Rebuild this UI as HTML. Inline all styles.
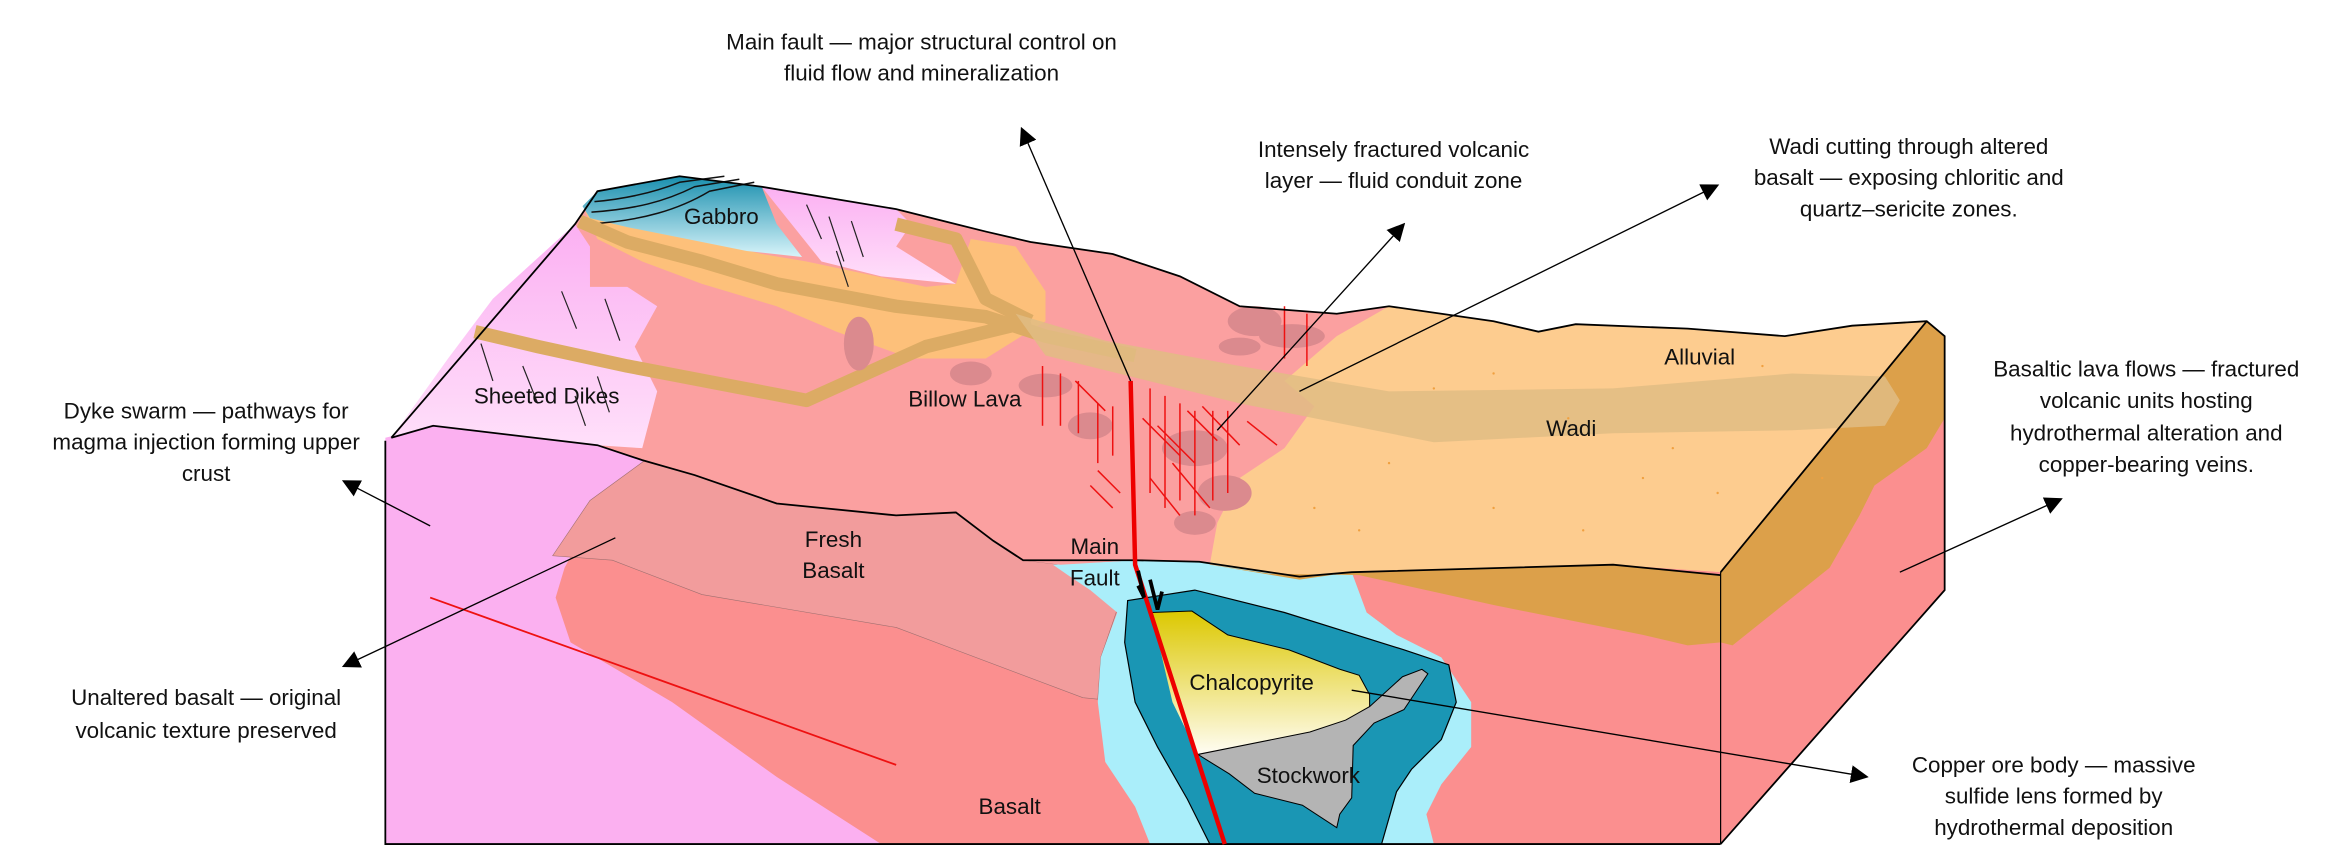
<!DOCTYPE html>
<html><head><meta charset="utf-8"><style>
html,body{margin:0;padding:0;background:#fff;}
svg{display:block}
text{font-family:"Liberation Sans",Arial,sans-serif;font-size:15px;fill:#111;}
</style></head><body>
<svg width="2330" height="862" viewBox="0 0 1560 577" preserveAspectRatio="none" xmlns="http://www.w3.org/2000/svg">
<defs>
<linearGradient id="gab" x1="0" y1="0" x2="0" y2="1"><stop offset="0" stop-color="#1a8fae"/><stop offset="1" stop-color="#d8f4fa"/></linearGradient>
<linearGradient id="chal" x1="0" y1="0" x2="0" y2="1"><stop offset="0" stop-color="#dcc800"/><stop offset="0.5" stop-color="#eee27a"/><stop offset="1" stop-color="#fffdf4"/></linearGradient>
<linearGradient id="dk" x1="0" y1="0" x2="0" y2="1"><stop offset="0" stop-color="#fbb0f2"/><stop offset="1" stop-color="#ffe0fa"/></linearGradient>
<marker id="ah" viewBox="0 0 10 10" refX="9" refY="5" markerWidth="12" markerHeight="12" markerUnits="userSpaceOnUse" orient="auto"><path d="M0,0 L10,5 L0,10 z" fill="#000"/></marker>
</defs>

<polygon points="258,295 1152,383 1152,565 258,565" fill="#fb8f8f"/>
<polygon points="258,293 290,285 400,298 432,308 400,340 378,380 372,400 382,430 450,470 520,520 590,565 258,565" fill="#fbb0f0"/>
<polygon points="370,372 395,335 432,308 465,318 520,337 600,345 640,343 665,362 685,375 710,378 725,390 748,408 737,440 735,468 725,467 600,420 470,398 410,375" fill="#f29c9c" stroke="#a07070" stroke-width="0.4"/>
<polygon points="705,378 760,375 803,376 870,386 905,383 915,410 935,425 965,440 985,470 985,500 965,525 955,545 960,565 770,565 760,540 740,510 735,470 737,440 748,410 730,395 715,385" fill="#aaeefa"/>
<polygon points="755,402 800,395 860,410 940,435 970,445 975,470 965,495 945,515 935,530 925,565 810,565 795,535 775,500 760,470 753,430" fill="#1a96b4" stroke="#000" stroke-width="0.8"/>
<polygon points="771,410 798,409 822,425 863,435 897,448 910,452 917,465 917,473 901,482 877,490 802,505 785,470" fill="url(#chal)"/>
<polygon points="802,505 877,490 901,482 917,473 939,453 952,448 956,451 940,475 920,484 906,499 905,534 897,545 895,554 872,539 840,531 823,518" fill="#b4b4b4" stroke="#000" stroke-width="0.7"/>
<polyline points="771,410 798,409 822,425 863,435 897,448 910,452 917,465 917,473" fill="none" stroke="#000" stroke-width="0.7"/>

<polygon points="262,293 385,150 400,128 455,118 510,125 600,140 640,150 660,155 690,162 745,170 790,185 830,205 895,210 930,205 1000,215 1030,222 1055,217 1130,220 1195,225 1240,218 1290,215 1152,383 1080,378 905,383 870,386 803,376 760,375 710,378 685,375 665,362 640,343 600,345 520,337 465,318 430,308 400,298 290,285" fill="#fba0a0"/>
<polygon points="930,205 1000,215 1030,222 1055,217 1130,220 1195,225 1240,218 1290,215 1152,383 1080,378 905,383 870,386 810,378 815,350 830,320 860,300 880,272 860,255 895,225" fill="#fdcc8f"/>
<polygon points="810,378 870,388 905,383 1080,378 1152,385 1152,430 1130,432 1100,425 1000,405 910,385 850,384" fill="#dca04a"/>
<polygon points="1152,383 1290,215 1302,225 1302,395 1152,565" fill="#fb8f8f"/>
<polygon points="1152,383 1290,215 1302,225 1302,280 1290,300 1255,325 1245,345 1225,380 1200,400 1160,432 1152,430" fill="#dca04a"/>

<polygon points="262,293 300,240 330,200 385,150 395,165 395,192 420,192 440,205 425,232 440,262 430,300 400,298 290,285" fill="url(#dk)"/>
<polygon points="392,142 420,150 470,160 510,170 540,175 620,192 640,190 650,160 680,165 700,195 700,215 660,240 610,240 560,222 520,205 470,190 430,175 400,160" fill="#fdc07a"/>
<polygon points="510,125 600,140 610,150 600,165 640,190 590,185 550,175 530,150" fill="url(#dk)"/>
<polygon points="400,128 455,118 510,125 520,150 537,172 500,168 460,160 420,152 395,146 390,138" fill="url(#gab)"/>
<g fill="none" stroke="#111" stroke-width="1">
<path d="M398,135 C420,133 440,128 455,122 L485,118"/>
<path d="M396,142 C425,140 445,135 465,125 L495,120"/>
<path d="M393,150 C430,148 455,140 475,128 L505,122"/>
</g>
<g fill="none" stroke="#dcab64" stroke-width="9" stroke-linejoin="round">
<polyline points="388,148 420,162 470,175 520,190 600,205 660,212 700,225 760,238"/>
<polyline points="600,150 640,160 660,200 690,215"/>
<polyline points="318,222 360,232 420,245 540,268 620,232 690,215"/>
</g>
<polygon points="680,210 740,228 830,245 930,262 1080,260 1200,250 1262,252 1272,268 1262,285 1200,288 1080,290 960,296 830,270 700,238" fill="#e0bc84" opacity="0.85"/>

<g fill="#db8a8e">
<ellipse cx="575" cy="230" rx="10" ry="18"/>
<ellipse cx="650" cy="250" rx="14" ry="8"/>
<ellipse cx="700" cy="258" rx="18" ry="8"/>
<ellipse cx="730" cy="285" rx="15" ry="9"/>
<ellipse cx="800" cy="300" rx="22" ry="12"/>
<ellipse cx="820" cy="330" rx="18" ry="12"/>
<ellipse cx="800" cy="350" rx="14" ry="8"/>
<ellipse cx="840" cy="215" rx="18" ry="10"/>
<ellipse cx="865" cy="225" rx="22" ry="8"/>
<ellipse cx="830" cy="232" rx="14" ry="6"/>
</g>
<g fill="#f0a040">
<circle cx="960" cy="260" r="0.8"/><circle cx="1000" cy="250" r="0.8"/><circle cx="1050" cy="280" r="0.8"/><circle cx="1100" cy="320" r="0.8"/><circle cx="930" cy="310" r="0.8"/><circle cx="1000" cy="340" r="0.8"/><circle cx="1120" cy="300" r="0.8"/><circle cx="1180" cy="245" r="0.8"/><circle cx="880" cy="340" r="0.8"/><circle cx="910" cy="355" r="0.8"/><circle cx="1060" cy="355" r="0.8"/><circle cx="1150" cy="330" r="0.8"/><circle cx="1220" cy="320" r="0.8"/>
</g>
<g stroke="#222" stroke-width="0.8">
<line x1="540" y1="137" x2="550" y2="160"/><line x1="555" y1="145" x2="565" y2="175"/><line x1="570" y1="148" x2="578" y2="172"/><line x1="560" y1="168" x2="568" y2="192"/>
<line x1="376" y1="195" x2="386" y2="220"/><line x1="405" y1="200" x2="415" y2="228"/>
<line x1="322" y1="230" x2="330" y2="255"/><line x1="350" y1="245" x2="360" y2="270"/><line x1="385" y1="265" x2="392" y2="285"/><line x1="400" y1="252" x2="408" y2="276"/>
</g>
<g stroke="#ee1111" stroke-width="1">
<line x1="698" y1="245" x2="698" y2="285"/><line x1="710" y1="250" x2="710" y2="285"/><line x1="722" y1="255" x2="722" y2="290"/>
<line x1="735" y1="270" x2="735" y2="310"/><line x1="745" y1="272" x2="745" y2="305"/><line x1="770" y1="260" x2="770" y2="330"/>
<line x1="780" y1="265" x2="780" y2="340"/><line x1="790" y1="270" x2="790" y2="335"/><line x1="800" y1="275" x2="800" y2="345"/>
<line x1="812" y1="275" x2="812" y2="335"/><line x1="822" y1="275" x2="822" y2="330"/>
<line x1="720" y1="255" x2="740" y2="275"/><line x1="765" y1="280" x2="790" y2="305"/><line x1="775" y1="285" x2="800" y2="310"/>
<line x1="795" y1="275" x2="815" y2="295"/><line x1="805" y1="272" x2="830" y2="298"/><line x1="785" y1="310" x2="810" y2="340"/>
<line x1="835" y1="282" x2="855" y2="298"/><line x1="735" y1="315" x2="750" y2="330"/><line x1="730" y1="325" x2="745" y2="340"/>
<line x1="770" y1="320" x2="790" y2="345"/><line x1="860" y1="205" x2="860" y2="240"/><line x1="875" y1="210" x2="875" y2="245"/>
</g>
<g fill="none" stroke="#000" stroke-width="1.2">
<polyline points="262,293 290,285 400,298 430,308 465,318 520,337 600,345 640,343 665,362 685,375 760,375 803,376 870,386 905,383 1080,378 1152,385"/>
<polyline points="262,293 385,150 400,128 455,118 510,125 600,140 640,150 660,155 690,162 745,170 790,185 830,205 895,210 930,205 1000,215 1030,222 1055,217 1130,220 1195,225 1240,218 1290,215 1302,225 1302,395 1152,565"/>
<polyline points="258,295 258,565 1152,565"/>
<polyline points="1152,383 1290,215"/>
<line x1="1152" y1="383" x2="1152" y2="565" stroke-width="0.8"/>
</g>
<line x1="288" y1="400" x2="600" y2="512" stroke="#ee1111" stroke-width="1.2"/>
<polyline points="757,255 760,378 820,565" fill="none" stroke="#ee0000" stroke-width="3"/>
<g stroke="#000" stroke-width="2.5" fill="none"><polyline points="762,382 766,400 762,392"/><polyline points="770,388 775,408 778,396"/></g>

<g stroke="#000" stroke-width="0.9" marker-end="url(#ah)">
<line x1="757" y1="255" x2="684" y2="86"/>
<line x1="815" y1="288" x2="940" y2="150"/>
<line x1="870" y1="262" x2="1150" y2="124"/>
<line x1="1272" y1="383" x2="1380" y2="334"/>
<line x1="905" y1="462" x2="1250" y2="520"/>
<line x1="288" y1="352" x2="230" y2="322"/>
<line x1="412" y1="360" x2="230" y2="446"/>
</g>

<g text-anchor="middle">
<text x="617" y="33">Main fault — major structural control on</text>
<text x="617" y="54">fluid flow and mineralization</text>
<text x="933" y="105">Intensely fractured volcanic</text>
<text x="933" y="126">layer — fluid conduit zone</text>
<text x="1278" y="103">Wadi cutting through altered</text>
<text x="1278" y="124">basalt — exposing chloritic and</text>
<text x="1278" y="145">quartz–sericite zones.</text>
<text x="1437" y="252">Basaltic lava flows — fractured</text>
<text x="1437" y="273">volcanic units hosting</text>
<text x="1437" y="295">hydrothermal alteration and</text>
<text x="1437" y="316">copper-bearing veins.</text>
<text x="1375" y="517">Copper ore body — massive</text>
<text x="1375" y="538">sulfide lens formed by</text>
<text x="1375" y="559">hydrothermal deposition</text>
<text x="138" y="280">Dyke swarm — pathways for</text>
<text x="138" y="301">magma injection forming upper</text>
<text x="138" y="322">crust</text>
<text x="138" y="472">Unaltered basalt — original</text>
<text x="138" y="494">volcanic texture preserved</text>
<text x="483" y="150">Gabbro</text>
<text x="366" y="270">Sheeted Dikes</text>
<text x="646" y="272">Billow Lava</text>
<text x="1138" y="244">Alluvial</text>
<text x="1052" y="292">Wadi</text>
<text x="558" y="366">Fresh</text>
<text x="558" y="387">Basalt</text>
<text x="733" y="371">Main</text>
<text x="733" y="392">Fault</text>
<text x="838" y="462">Chalcopyrite</text>
<text x="876" y="524">Stockwork</text>
<text x="676" y="545">Basalt</text>
</g>
</svg>
</body></html>
